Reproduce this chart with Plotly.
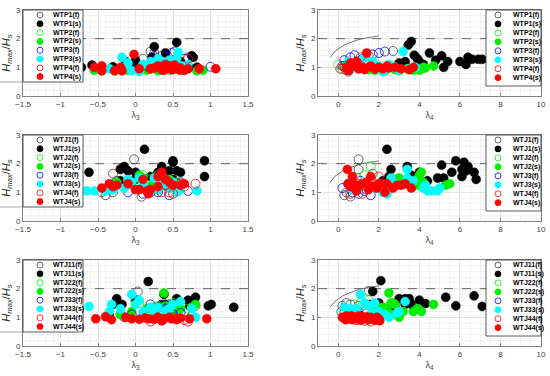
import plotly.graph_objects as go

# ---------------- data ----------------
# Panel 1: WTP vs lambda3
p1 = {
 "WTP1(f)": ([0.1,0.2,0.25,0.25,-0.02,0.35,0.7,0.5,0.0],
             [1.3,1.55,1.5,1.35,1.02,1.4,1.35,1.2,1.05]),
 "WTP1(s)": ([-0.72,-0.58,-0.3,-0.13,0.0,0.25,0.22,0.4,0.55,0.55,0.45,0.6,0.75,0.77,0.72,0.82,0.0,0.3,-0.05],
             [1.0,1.08,1.02,1.2,1.25,1.72,1.35,1.5,1.87,1.3,1.05,1.2,1.4,1.35,1.0,1.0,1.0,1.1,1.05]),
 "WTP2(f)": ([0.3,0.45,0.6],[0.95,0.9,1.0]),
 "WTP2(s)": ([-0.55,-0.45,-0.27,-0.1,0.15,0.3,0.35,0.5,0.65,0.82,0.9,0.4,0.55],
             [0.9,0.88,0.88,0.9,0.9,0.88,0.9,0.92,0.9,0.88,0.9,1.0,0.95]),
 "WTP3(f)": ([0.52,0.48,0.4,0.65,1.0,0.25,0.15,-0.05,0.55],
             [1.55,1.5,1.38,1.3,1.02,1.4,1.05,1.0,1.1]),
 "WTP3(s)": ([-0.45,-0.35,-0.18,-0.15,-0.1,0.05,0.1,0.2,0.3,0.4,0.45,0.57,0.55,0.7,0.62,0.25,-0.05,0.35],
             [0.95,0.95,1.35,1.0,1.15,0.85,1.1,1.2,1.3,1.0,1.25,1.52,1.3,1.1,1.05,1.0,0.88,1.15]),
 "WTP4(f)": ([0.35,0.5,0.7,0.6,0.2],[1.0,0.95,1.3,0.9,0.95]),
 "WTP4(s)": ([-0.55,-0.45,-0.45,-0.28,-0.2,-0.18,-0.02,0.05,0.2,0.3,0.35,0.4,0.42,0.45,0.48,0.5,0.55,0.6,0.65,0.7,0.85,1.07,0.38,0.25,0.52,0.58],
             [1.0,1.05,0.88,0.88,1.0,0.88,1.45,0.95,0.95,1.05,0.92,1.1,0.95,1.05,0.92,1.0,0.95,0.98,0.9,0.95,0.95,0.95,0.9,0.98,1.08,0.92]),
}
# Panel 2: WTP vs lambda4
p2 = {
 "WTP1(f)": ([2.7,1.5,0.5,0.3],[1.57,1.4,0.85,1.0]),
 "WTP1(s)": ([3.6,3.45,3.75,3.3,3.9,4.0,4.2,4.5,4.8,5.1,5.2,5.4,6.0,6.3,6.4,6.6,6.9,7.1,3.0,0.5],
             [1.9,1.78,1.42,1.2,1.3,1.2,1.1,1.5,1.25,1.4,1.0,1.2,1.2,1.1,1.35,1.28,1.28,1.28,1.15,0.9]),
 "WTP2(f)": ([0.0,0.2,0.4],[1.1,0.95,1.05]),
 "WTP2(s)": ([0.5,1.0,1.8,2.3,2.8,3.0,3.4,3.7,4.0,4.1,4.2,4.3,4.7,2.0,1.5],
             [0.95,0.95,0.9,0.88,0.92,0.88,0.95,0.9,0.9,0.95,1.0,0.98,1.05,0.95,0.92]),
 "WTP3(f)": ([0.3,0.6,0.8,2.0,2.3,1.2,0.5,0.2,1.7,0.9],
             [1.25,1.35,1.42,1.5,1.55,1.3,1.1,1.05,1.45,1.2]),
 "WTP3(s)": ([0.5,1.0,1.3,1.7,2.0,2.2,2.5,2.8,3.2,3.5,3.8,3.0,1.5,0.8],
             [1.2,1.1,1.35,1.2,1.05,0.85,1.1,1.0,1.55,0.95,1.0,0.9,1.0,1.0]),
 "WTP4(f)": ([0.1,0.3,0.6,0.9,1.1,0.4],[0.95,1.05,1.0,1.2,1.35,0.9]),
 "WTP4(s)": ([0.4,0.6,0.8,0.9,1.2,1.4,1.5,1.8,2.0,2.2,2.5,2.8,3.1,3.5,3.7,1.0,1.6,2.4,0.5,1.3],
             [1.0,1.15,1.05,1.2,1.0,1.5,1.0,0.95,1.0,0.95,0.98,1.0,0.95,0.92,1.0,0.95,1.05,1.05,0.9,0.92]),
}
# Panel 3: WTJ vs lambda3
p3 = {
 "WTJ1(f)": ([-0.3,-0.25,-0.02,-0.4,-0.45,-0.3,0.08,0.3,0.55,-0.2],
             [1.65,1.4,2.15,0.9,1.0,1.0,0.85,1.1,1.1,1.82]),
 "WTJ1(s)": ([-0.62,-0.2,-0.15,-0.1,0.12,0.0,-0.2,0.0,0.3,0.35,0.5,0.5,0.55,0.45,0.5,0.6,0.92,0.92,0.2,0.4],
             [1.7,1.8,1.9,1.75,2.5,1.7,1.4,1.45,1.7,1.9,2.1,2.05,1.75,1.75,1.45,1.7,2.1,1.55,1.55,1.4]),
 "WTJ2(f)": ([0.1,0.3,0.4,0.55,0.2],[1.6,1.6,1.4,1.3,1.45]),
 "WTJ2(s)": ([-0.25,-0.1,0.05,0.1,0.25,0.4,0.55,0.6,0.2,0.45],
             [1.35,1.4,1.6,1.5,1.4,1.3,1.35,1.2,1.2,1.45]),
 "WTJ3(f)": ([-0.1,0.1,0.3,0.45,0.55,0.7,0.6,0.2,0.5],
             [1.0,0.95,1.0,0.9,1.05,1.05,1.35,1.0,1.2]),
 "WTJ3(s)": ([-0.65,-0.55,-0.4,-0.3,-0.15,-0.05,0.05,0.1,0.2,0.25,0.35,0.4,0.5,0.6,0.82,0.3,0.0,0.55,0.45,-0.1],
             [1.05,1.05,1.05,1.08,1.15,1.35,1.5,1.3,1.05,1.5,1.45,1.2,1.35,1.1,1.05,1.1,1.1,1.0,1.15,1.45]),
 "WTJ4(f)": ([0.45,0.5,0.6,0.65,0.8,0.35,0.4],[1.0,0.95,1.3,1.2,1.3,1.0,1.25]),
 "WTJ4(s)": ([-0.45,-0.35,-0.3,-0.25,-0.1,0.0,0.05,0.1,0.15,0.2,0.3,0.35,0.4,0.45,0.5,0.6,0.65,0.17,0.3],
             [1.15,1.3,1.2,1.25,1.3,1.1,1.1,1.45,1.05,1.1,1.55,1.7,1.45,1.35,1.25,1.25,1.3,0.95,1.2]),
}
# Panel 4: WTJ vs lambda4
p4 = {
 "WTJ1(f)": ([1.0,1.0,0.3,0.6,0.4,1.7,0.5],[2.15,1.8,0.9,0.85,1.0,1.65,1.3]),
 "WTJ1(s)": ([2.4,2.6,2.5,3.4,3.6,4.0,4.4,4.9,5.1,5.2,5.6,5.8,6.1,6.1,6.2,6.3,6.4,6.7,6.8,2.2],
             [2.5,1.8,1.55,1.9,1.6,1.7,1.4,1.5,1.95,1.5,1.7,2.1,1.8,1.55,2.05,1.75,1.9,1.7,1.45,1.4]),
 "WTJ2(f)": ([1.6,1.3,0.9,1.4,1.8],[1.9,1.6,1.5,1.3,1.2]),
 "WTJ2(s)": ([2.8,3.0,3.6,3.7,3.9,4.0,4.1,4.2,4.1,5.3,5.5,2.2,2.0],
             [1.45,1.5,1.35,1.2,1.45,1.6,1.7,1.35,1.2,1.25,1.3,1.25,1.3]),
 "WTJ3(f)": ([0.2,0.5,0.8,1.0,1.3,1.6,0.7,1.1],[1.15,1.3,1.1,0.95,1.05,0.9,1.0,1.4]),
 "WTJ3(s)": ([0.7,1.2,1.8,2.2,2.4,2.6,3.4,3.4,3.7,4.2,4.4,4.6,4.9,5.0,3.2,2.8,2.5,3.6,4.3],
             [1.1,1.2,1.15,1.0,0.95,1.5,1.8,1.5,1.4,1.15,1.05,1.05,1.05,1.15,1.25,1.3,1.1,1.25,1.25]),
 "WTJ4(f)": ([0.6,1.0,1.4,1.6,2.0,1.2,0.8],[0.95,1.3,1.1,1.5,1.55,0.95,1.15]),
 "WTJ4(s)": ([0.45,0.7,0.5,0.6,0.8,1.0,1.2,1.4,1.5,1.7,1.9,2.0,2.2,2.4,2.7,2.9,3.1,3.3,3.6,0.9,1.6,2.3],
             [1.8,1.55,1.3,1.2,1.25,1.25,1.3,1.35,1.1,1.2,1.15,1.3,1.3,1.3,1.15,1.25,1.25,1.3,1.15,1.05,1.55,1.0]),
}
# Panel 5: WTJ11.. vs lambda3
p5 = {
 "WTJ11(f)": ([0.03,-0.2,-0.15,0.8,0.3,0.5,0.65],[1.9,1.1,1.0,1.4,1.1,1.05,1.2]),
 "WTJ11(s)": ([0.17,-0.3,-0.25,-0.18,-0.35,0.0,0.38,0.35,0.45,0.55,0.7,0.72,0.8,0.97,1.01,1.31,0.4,0.5],
              [2.25,1.45,1.65,1.45,1.1,1.6,1.8,1.45,1.35,1.65,1.6,1.4,1.7,1.4,1.45,1.35,1.45,1.25]),
 "WTJ22(f)": ([0.0,0.05,0.3,0.5,0.7,0.2],[1.55,1.5,1.4,1.5,1.3,1.3]),
 "WTJ22(s)": ([-0.2,-0.05,0.15,0.25,0.38,0.4,0.6,0.75,0.8,0.5],
              [1.1,1.2,1.3,1.35,1.85,1.4,1.3,1.35,1.45,1.2]),
 "WTJ33(f)": ([0.2,0.3,0.4,0.5,0.6,-0.05,0.45],[1.45,1.35,1.3,1.1,1.15,1.1,1.45]),
 "WTJ33(s)": ([-0.62,-0.35,-0.32,-0.2,-0.05,0.0,0.1,0.2,0.25,0.3,0.45,0.5,0.6,0.75,0.8,0.4,0.05],
              [1.38,1.2,1.45,1.3,1.8,1.45,1.2,1.35,1.15,1.35,1.3,1.45,1.55,1.3,1.0,1.2,1.6]),
 "WTJ44(f)": ([0.2,0.35,0.55,0.65,0.5,0.7,0.3],[0.85,0.9,0.95,0.9,1.0,0.85,1.0]),
 "WTJ44(s)": ([-0.53,-0.4,-0.32,-0.13,-0.05,0.05,0.13,0.18,0.3,0.35,0.38,0.45,0.55,0.6,0.72,0.95,0.25,0.48],
              [0.95,1.02,0.92,1.0,0.95,0.93,0.98,0.95,1.0,0.88,0.95,1.0,0.92,0.98,0.95,0.95,0.93,0.95]),
}
# Panel 6: WTJ11.. vs lambda4
p6 = {
 "WTJ11(f)": ([0.2,0.15,0.4,0.6,1.0,1.5,0.3],[1.4,1.2,1.5,1.45,1.4,1.92,1.15]),
 "WTJ11(s)": ([2.1,1.7,1.6,2.0,3.0,3.3,3.3,3.5,3.6,4.0,4.3,5.3,5.8,6.7,7.1,2.8],
              [2.28,1.9,1.45,1.5,1.65,1.45,1.65,1.65,1.45,1.6,1.48,1.7,1.4,1.75,1.38,1.35]),
 "WTJ22(f)": ([0.8,1.1,1.5,1.3,1.0],[1.45,1.5,1.6,1.3,1.2]),
 "WTJ22(s)": ([1.8,2.0,2.2,2.5,2.6,2.8,2.4,2.6,3.0,3.2,3.7,3.9,4.1,4.7,2.7],
              [1.3,1.15,1.35,1.85,1.5,1.45,1.3,1.1,1.0,1.2,1.2,1.3,1.2,1.45,1.5]),
 "WTJ33(f)": ([0.5,0.8,1.1,1.4,0.9],[1.1,1.0,1.05,1.15,1.25]),
 "WTJ33(s)": ([0.3,0.6,0.9,1.1,1.3,1.5,1.8,2.0,2.3,2.5,2.9,3.0,3.3,1.7,0.5],
              [1.35,1.3,1.3,1.8,1.5,1.4,1.5,1.2,1.1,1.0,1.15,1.2,1.55,1.15,1.15]),
 "WTJ44(f)": ([0.6,0.9,1.3,1.6,1.8,1.1],[0.95,0.9,0.88,0.85,0.92,1.0]),
 "WTJ44(s)": ([0.2,0.3,0.4,0.5,0.6,0.7,0.8,0.9,1.0,1.1,1.2,1.3,1.4,1.5,1.6,1.7,1.8,1.9,2.0,2.05,0.35,0.65],
              [1.0,0.98,1.05,0.95,1.02,0.92,1.0,0.95,1.05,0.9,1.0,0.95,1.02,0.92,1.0,0.95,0.9,1.0,0.95,0.88,0.92,1.05]),
}
# theoretical curve (right column)
curve_x = [-0.4,-0.3,-0.2,-0.1,0.0,0.2,0.4,0.6,0.8,1.0,1.2,1.4,1.6,1.8,2.0]
curve_y = [1.35,1.45,1.53,1.59,1.65,1.74,1.81,1.87,1.92,1.97,2.00,2.03,2.06,2.08,2.10]
threshold = 2.0

series_colors = ["#404040", "#000000", "#00EE00", "#00EE00", "#0000FF", "#00FFFF", "#FF0000", "#FF0000"]
series_filled = [False, True, False, True, False, True, False, True]

# ---------------- layout geometry (pixels) ----------------
W, H = 550, 376
ML, MR, MT, MB = 23, 9, 10, 30
PW, PH = W - ML - MR, H - MT - MB
def xp(px): return (px - ML) / PW
def yp(py): return (H - MB - py) / PH

col_px = [(23, 248), (318, 541)]
row_px = [(10, 96), (135, 221), (260, 346)]

panels = [(p1, 0, 0), (p2, 0, 1), (p3, 1, 0), (p4, 1, 1), (p5, 2, 0), (p6, 2, 1)]

FONT = "Liberation Sans, Arial"
fig = go.Figure()
layout = dict(width=W, height=H, margin=dict(l=ML, r=MR, t=MT, b=MB),
              paper_bgcolor="white", plot_bgcolor="white", showlegend=False,
              template="none", font=dict(family=FONT, size=8, color="#262626"))
shapes, annotations = [], []

for i, (pdata, r, c) in enumerate(panels):
    k = i + 1
    xa = "x" if k == 1 else f"x{k}"
    ya = "y" if k == 1 else f"y{k}"
    xk = "xaxis" if k == 1 else f"xaxis{k}"
    yk = "yaxis" if k == 1 else f"yaxis{k}"
    x0p, x1p = col_px[c]
    y0p, y1p = row_px[r]
    if c == 0:
        xrng, dt, mdt, t0 = [-1.5, 1.5], 0.5, 0.1, -1.5
        xtitle = "λ<sub>3</sub>"
    else:
        xrng, dt, mdt, t0 = [-1, 10], 2, 0.5, 0
        xtitle = "λ<sub>4</sub>"
    layout[xk] = dict(domain=[xp(x0p), xp(x1p)], anchor=ya, range=xrng, tick0=t0, dtick=dt,
                      showgrid=True, gridcolor="#e3e3e3", gridwidth=1,
                      minor=dict(dtick=mdt, showgrid=True, gridcolor="#f2f2f2", gridwidth=1),
                      showline=True, linecolor="#808080", linewidth=1, mirror=True,
                      ticks="inside", ticklen=3, tickcolor="#808080", zeroline=False,
                      tickfont=dict(size=8, color="#404040"),
                      title=dict(text=xtitle, font=dict(size=9, color="#404040"), standoff=4),
                      automargin=False)
    layout[yk] = dict(domain=[yp(y1p), yp(y0p)], anchor=xa, range=[0, 3], dtick=1,
                      showgrid=True, gridcolor="#e3e3e3", gridwidth=1,
                      minor=dict(dtick=0.2, showgrid=True, gridcolor="#f2f2f2", gridwidth=1),
                      showline=True, linecolor="#808080", linewidth=1, mirror=True,
                      ticks="inside", ticklen=3, tickcolor="#808080", zeroline=False,
                      tickfont=dict(size=8, color="#404040"),
                      title=dict(text="<i>H</i><sub><i>max</i></sub>/<i>H</i><sub><i>s</i></sub>",
                                 font=dict(size=11, color="#262626"), standoff=4),
                      automargin=False)
    # threshold line
    shapes.append(dict(type="line", xref=xa, yref=ya, x0=xrng[0], x1=xrng[1], y0=threshold, y1=threshold,
                       line=dict(color="#606060", width=1, dash="dash"), layer="between"))
    # theoretical curve
    if c == 1:
        fig.add_trace(go.Scatter(x=curve_x, y=curve_y, mode="lines", xaxis=xa, yaxis=ya,
                                 line=dict(color="#707070", width=1), hoverinfo="skip"))
    names = list(pdata.keys())
    for j, name in enumerate(names):
        xs, ys = pdata[name]
        col = series_colors[j]
        if series_filled[j]:
            mk = dict(size=9, color=col, line=dict(color=col, width=0.5))
        else:
            mk = dict(size=9, symbol="circle-open", color=col, line=dict(color=col, width=0.8))
        fig.add_trace(go.Scatter(x=xs, y=ys, mode="markers", name=name, xaxis=xa, yaxis=ya, marker=mk))
    # custom legend box
    dy = y0p - 10
    if c == 0:
        bx0, bx1, by0, by1 = 23, 83, 10, 82
        mx, tx = 40, 52
        iy0, step = 15, 8.8
        # thin rule continuing the legend's bottom edge to the figure edge
        shapes.append(dict(type="line", xref="paper", yref="paper", x0=xp(0), x1=xp(bx0),
                           y0=yp(by1 + dy), y1=yp(by1 + dy), line=dict(color="#909090", width=0.8)))
    else:
        bx0, bx1, by0, by1 = 486, 541, 10, 86
        mx, tx = 498, 512
        iy0, step = 15, 8.95
    shapes.append(dict(type="rect", xref="paper", yref="paper", x0=xp(bx0), x1=xp(bx1),
                       y0=yp(by1 + dy), y1=yp(by0 + dy), fillcolor="white",
                       line=dict(color="#303030", width=0.8), layer="above"))
    for j, name in enumerate(names):
        py = iy0 + step * j + dy
        col = series_colors[j]
        shapes.append(dict(type="circle", xref="paper", yref="paper", xsizemode="pixel", ysizemode="pixel",
                           xanchor=xp(mx), yanchor=yp(py), x0=-3, x1=3, y0=-3, y1=3,
                           fillcolor=col if series_filled[j] else "rgba(0,0,0,0)",
                           line=dict(color=col, width=0.8), layer="above"))
        annotations.append(dict(xref="paper", yref="paper", x=xp(tx), y=yp(py), text=f"<b>{name}</b>",
                                showarrow=False, xanchor="left", yanchor="middle", borderpad=0,
                                font=dict(family=FONT, size=7, color="#000000")))

layout["shapes"] = shapes
layout["annotations"] = annotations
fig.update_layout(**layout)
fig.write_html("out.html", config={"displayModeBar": False},
               post_script="document.body.style.margin='0';document.body.style.overflow='hidden';")
